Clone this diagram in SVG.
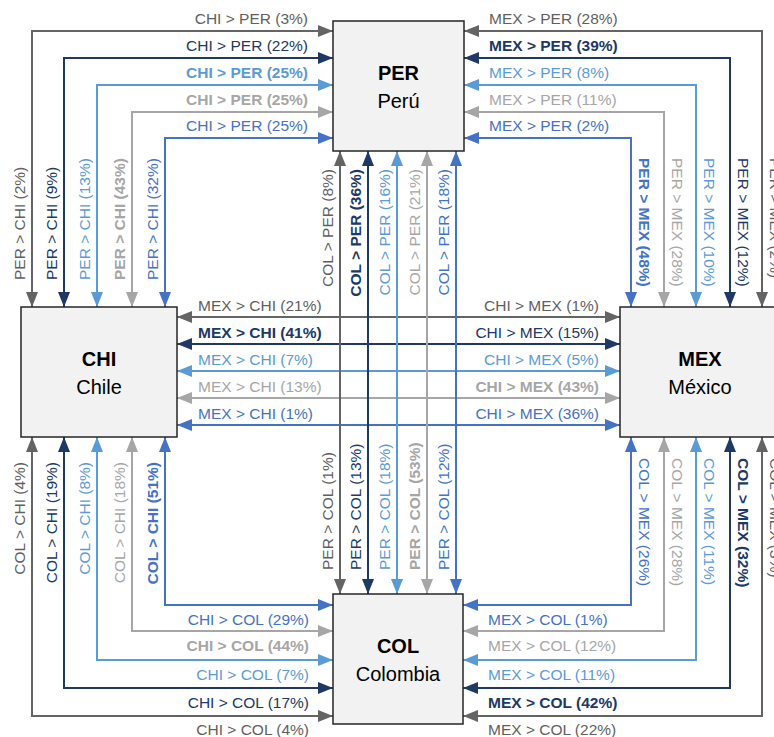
<svg xmlns="http://www.w3.org/2000/svg" width="774" height="737" viewBox="0 0 774 737">
<defs>
<style>
.box{fill:#f2f2f2;stroke:#262626;stroke-width:1.5}
.code{font-family:"Liberation Sans",Arial,sans-serif;font-size:20px;font-weight:bold;fill:#000;text-anchor:middle}
.name{font-family:"Liberation Sans",Arial,sans-serif;font-size:20px;fill:#000;text-anchor:middle}
.ln{fill:none;stroke-width:2}
.k0{stroke:#646464;marker-start:url(#a0);marker-end:url(#a0)}
.k1{stroke:#203864;marker-start:url(#a1);marker-end:url(#a1)}
.k2{stroke:#5b9bd5;marker-start:url(#a2);marker-end:url(#a2)}
.k3{stroke:#a6a6a6;marker-start:url(#a3);marker-end:url(#a3)}
.k4{stroke:#4472c4;marker-start:url(#a4);marker-end:url(#a4)}
text.l{font-family:"Liberation Sans",Arial,sans-serif;font-size:15.5px}
.t0{fill:#5f5f5f}.t1{fill:#203864}.t2{fill:#5b9bd5}.t3{fill:#a6a6a6}.t4{fill:#4472c4}
.b{font-weight:bold}
.e{text-anchor:end}
</style>
<marker id="a0" viewBox="0 0 15 12" markerWidth="15" markerHeight="12" refX="15" refY="6" orient="auto-start-reverse" markerUnits="userSpaceOnUse"><path d="M0,0 L15,6 L0,12 z" fill="#646464"/></marker>
<marker id="a1" viewBox="0 0 15 12" markerWidth="15" markerHeight="12" refX="15" refY="6" orient="auto-start-reverse" markerUnits="userSpaceOnUse"><path d="M0,0 L15,6 L0,12 z" fill="#203864"/></marker>
<marker id="a2" viewBox="0 0 15 12" markerWidth="15" markerHeight="12" refX="15" refY="6" orient="auto-start-reverse" markerUnits="userSpaceOnUse"><path d="M0,0 L15,6 L0,12 z" fill="#5b9bd5"/></marker>
<marker id="a3" viewBox="0 0 15 12" markerWidth="15" markerHeight="12" refX="15" refY="6" orient="auto-start-reverse" markerUnits="userSpaceOnUse"><path d="M0,0 L15,6 L0,12 z" fill="#a6a6a6"/></marker>
<marker id="a4" viewBox="0 0 15 12" markerWidth="15" markerHeight="12" refX="15" refY="6" orient="auto-start-reverse" markerUnits="userSpaceOnUse"><path d="M0,0 L15,6 L0,12 z" fill="#4472c4"/></marker>
</defs>
<rect width="774" height="737" fill="#fff"/>

<g id="connectors">
<!-- CHI <-> PER -->
<path class="ln k0" d="M32,307 V31 H333"/>
<path class="ln k1" d="M64,307 V58 H333"/>
<path class="ln k2" d="M97,307 V85 H333"/>
<path class="ln k3" d="M132,307 V112 H333"/>
<path class="ln k4" d="M165,307 V138 H333"/>
<!-- MEX <-> PER -->
<path class="ln k0" d="M762,307 V31 H464"/>
<path class="ln k1" d="M730,307 V58 H464"/>
<path class="ln k2" d="M696,307 V85 H464"/>
<path class="ln k3" d="M664,307 V112 H464"/>
<path class="ln k4" d="M631,307 V138 H464"/>
<!-- CHI <-> COL -->
<path class="ln k0" d="M32,437 V716 H333"/>
<path class="ln k1" d="M64,437 V688 H333"/>
<path class="ln k2" d="M97,437 V660 H333"/>
<path class="ln k3" d="M132,437 V631 H333"/>
<path class="ln k4" d="M165,437 V605 H333"/>
<!-- MEX <-> COL -->
<path class="ln k0" d="M762,437 V716 H463"/>
<path class="ln k1" d="M730,437 V688 H463"/>
<path class="ln k2" d="M696,437 V660 H463"/>
<path class="ln k3" d="M664,437 V631 H463"/>
<path class="ln k4" d="M631,437 V605 H463"/>
<!-- CHI <-> MEX -->
<path class="ln k0" d="M177,317 H620"/>
<path class="ln k1" d="M177,344 H620"/>
<path class="ln k2" d="M177,371 H620"/>
<path class="ln k3" d="M177,398 H620"/>
<path class="ln k4" d="M177,425 H620"/>
<!-- PER <-> COL -->
<path class="ln k0" d="M340,151 V594"/>
<path class="ln k1" d="M368,151 V594"/>
<path class="ln k2" d="M397,151 V594"/>
<path class="ln k3" d="M427,151 V594"/>
<path class="ln k4" d="M456,151 V594"/>
</g>

<g id="labels">
<!-- top-left -->
<text class="l t0 e" x="308" y="23.5">CHI &gt; PER (3%)</text>
<text class="l t1 e" x="308" y="50.5">CHI &gt; PER (22%)</text>
<text class="l t2 e b" x="308" y="77.5">CHI &gt; PER (25%)</text>
<text class="l t3 e b" x="308" y="104.5">CHI &gt; PER (25%)</text>
<text class="l t4 e" x="308" y="130.5">CHI &gt; PER (25%)</text>
<!-- top-right -->
<text class="l t0" x="489" y="23.5">MEX &gt; PER (28%)</text>
<text class="l t1 b" x="489" y="50.5">MEX &gt; PER (39%)</text>
<text class="l t2" x="489" y="77.5">MEX &gt; PER (8%)</text>
<text class="l t3" x="489" y="104.5">MEX &gt; PER (11%)</text>
<text class="l t4" x="489" y="130.5">MEX &gt; PER (2%)</text>
<!-- middle-left -->
<text class="l t0" x="198" y="311">MEX &gt; CHI (21%)</text>
<text class="l t1 b" x="198" y="338">MEX &gt; CHI (41%)</text>
<text class="l t2" x="198" y="365">MEX &gt; CHI (7%)</text>
<text class="l t3" x="198" y="392">MEX &gt; CHI (13%)</text>
<text class="l t4" x="198" y="419">MEX &gt; CHI (1%)</text>
<!-- middle-right -->
<text class="l t0 e" x="599" y="311">CHI &gt; MEX (1%)</text>
<text class="l t1 e" x="599" y="338">CHI &gt; MEX (15%)</text>
<text class="l t2 e" x="599" y="365">CHI &gt; MEX (5%)</text>
<text class="l t3 e b" x="599" y="392">CHI &gt; MEX (43%)</text>
<text class="l t4 e" x="599" y="419">CHI &gt; MEX (36%)</text>
<!-- bottom-left -->
<text class="l t4 e" x="309" y="624.5">CHI &gt; COL (29%)</text>
<text class="l t3 e b" x="309" y="650.5">CHI &gt; COL (44%)</text>
<text class="l t2 e" x="309" y="679.5">CHI &gt; COL (7%)</text>
<text class="l t1 e" x="309" y="707.5">CHI &gt; COL (17%)</text>
<text class="l t0 e" x="309" y="735">CHI &gt; COL (4%)</text>
<!-- bottom-right -->
<text class="l t4" x="488" y="624.5">MEX &gt; COL (1%)</text>
<text class="l t3" x="488" y="650.5">MEX &gt; COL (12%)</text>
<text class="l t2" x="488" y="679.5">MEX &gt; COL (11%)</text>
<text class="l t1 b" x="488" y="707.5">MEX &gt; COL (42%)</text>
<text class="l t0" x="488" y="735">MEX &gt; COL (22%)</text>
<!-- left top verticals -->
<text class="l t0" transform="translate(25,280) rotate(-90)">PER &gt; CHI (2%)</text>
<text class="l t1" transform="translate(57,280) rotate(-90)">PER &gt; CHI (9%)</text>
<text class="l t2" transform="translate(90,280) rotate(-90)">PER &gt; CHI (13%)</text>
<text class="l t3 b" transform="translate(125,280) rotate(-90)">PER &gt; CHI (43%)</text>
<text class="l t4" transform="translate(158,280) rotate(-90)">PER &gt; CHI (32%)</text>
<!-- left bottom verticals -->
<text class="l t0 e" transform="translate(25,462) rotate(-90)">COL &gt; CHI (4%)</text>
<text class="l t1 e" transform="translate(57,462) rotate(-90)">COL &gt; CHI (19%)</text>
<text class="l t2 e" transform="translate(90,462) rotate(-90)">COL &gt; CHI (8%)</text>
<text class="l t3 e" transform="translate(125,462) rotate(-90)">COL &gt; CHI (18%)</text>
<text class="l t4 e b" transform="translate(158,462) rotate(-90)">COL &gt; CHI (51%)</text>
<!-- center top verticals -->
<text class="l t0 e" transform="translate(333,169) rotate(-90)">COL &gt; PER (8%)</text>
<text class="l t1 e b" transform="translate(361,169) rotate(-90)">COL &gt; PER (36%)</text>
<text class="l t2 e" transform="translate(390,169) rotate(-90)">COL &gt; PER (16%)</text>
<text class="l t3 e" transform="translate(420,169) rotate(-90)">COL &gt; PER (21%)</text>
<text class="l t4 e" transform="translate(449,169) rotate(-90)">COL &gt; PER (18%)</text>
<!-- center bottom verticals -->
<text class="l t0" transform="translate(333,570) rotate(-90)">PER &gt; COL (1%)</text>
<text class="l t1" transform="translate(361,570) rotate(-90)">PER &gt; COL (13%)</text>
<text class="l t2" transform="translate(390,570) rotate(-90)">PER &gt; COL (18%)</text>
<text class="l t3 b" transform="translate(420,570) rotate(-90)">PER &gt; COL (53%)</text>
<text class="l t4" transform="translate(449,570) rotate(-90)">PER &gt; COL (12%)</text>
<!-- right top verticals -->
<text class="l t4 b" transform="translate(639,158) rotate(90)">PER &gt; MEX (48%)</text>
<text class="l t3" transform="translate(672,158) rotate(90)">PER &gt; MEX (28%)</text>
<text class="l t2" transform="translate(704,158) rotate(90)">PER &gt; MEX (10%)</text>
<text class="l t1" transform="translate(738,158) rotate(90)">PER &gt; MEX (12%)</text>
<text class="l t0" transform="translate(770,158) rotate(90)">PER &gt; MEX (2%)</text>
<!-- right bottom verticals -->
<text class="l t4" transform="translate(639,458) rotate(90)">COL &gt; MEX (26%)</text>
<text class="l t3" transform="translate(672,458) rotate(90)">COL &gt; MEX (28%)</text>
<text class="l t2" transform="translate(704,458) rotate(90)">COL &gt; MEX (11%)</text>
<text class="l t1 b" transform="translate(738,458) rotate(90)">COL &gt; MEX (32%)</text>
<text class="l t0" transform="translate(770,458) rotate(90)">COL &gt; MEX (3%)</text>
</g>

<g id="PER">
<rect class="box" x="333" y="21" width="131" height="130"/>
<text class="code" x="398.5" y="80">PER</text>
<text class="name" x="398.5" y="108">Perú</text>
</g>
<g id="CHI">
<rect class="box" x="21" y="307" width="156" height="130"/>
<text class="code" x="99" y="366">CHI</text>
<text class="name" x="99" y="394">Chile</text>
</g>
<g id="MEX">
<rect class="box" x="620" y="307" width="160" height="130"/>
<text class="code" x="700" y="366">MEX</text>
<text class="name" x="700" y="394">México</text>
</g>
<g id="COL">
<rect class="box" x="333" y="594" width="130" height="130"/>
<text class="code" x="398" y="653">COL</text>
<text class="name" x="398" y="681">Colombia</text>
</g>
</svg>
